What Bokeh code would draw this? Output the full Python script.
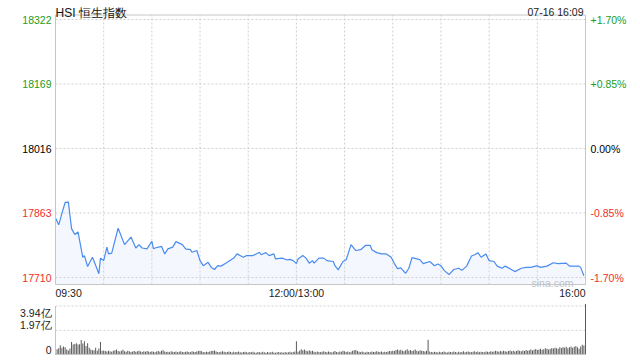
from bokeh.plotting import figure
from bokeh.models import Range1d, ColumnDataSource
from bokeh.core.properties import value
from bokeh.embed import file_html
from bokeh.resources import INLINE

FONT = "Liberation Sans"

# ---------------- data ----------------
prev_close = 18016
price_ticks = [17710, 17863, 18016, 18169, 18322]
pct_labels = ["-1.70%", "-0.85%", "0.00%", "+0.85%", "+1.70%"]
time_ticks = [0, 150, 330]
time_labels = ["09:30", "12:00/13:00", "16:00"]
grid_minutes = [30, 60, 90, 120, 150, 180, 210, 240, 270, 300]

minutes = [0, 2, 4, 6, 8, 10, 12, 14, 17, 18, 20, 23, 25, 27, 28, 30, 32, 33, 35, 39,
           43, 47, 50, 52, 54, 57, 60, 61, 62, 66, 68, 70, 73, 75, 79, 81, 84, 85, 88, 90,
           92, 95, 97, 99, 101, 103, 106, 111, 113, 117, 119, 123, 127, 128, 131, 133, 136, 137, 141, 144,
           146, 148, 150, 151, 154, 156, 158, 160, 161, 164, 167, 169, 173, 174, 176, 179, 181, 184, 187, 190,
           193, 196, 197, 200, 203, 206, 209, 211, 213, 215, 218, 220, 222, 225, 227, 229, 233, 236, 238, 240,
           242, 245, 248, 251, 253, 256, 259, 261, 263, 265, 268, 270, 273, 275, 278, 280, 283, 286, 290, 293,
           296, 300, 302, 306, 310, 313, 318, 320, 323, 326, 327, 329]
prices = [17851, 17835, 17862, 17888, 17889, 17826, 17812, 17818, 17758, 17762, 17736, 17758, 17739, 17719, 17756, 17750, 17782, 17766, 17768, 17827,
          17788, 17806, 17780, 17788, 17780, 17778, 17796, 17778, 17780, 17784, 17766, 17778, 17782, 17795, 17788, 17778, 17776, 17770, 17774, 17750,
          17738, 17746, 17734, 17729, 17738, 17737, 17744, 17756, 17766, 17758, 17762, 17762, 17770, 17764, 17769, 17762, 17766, 17754, 17756, 17752,
          17753, 17750, 17743, 17754, 17762, 17756, 17744, 17750, 17744, 17756, 17756, 17750, 17748, 17738, 17728, 17748, 17752, 17788, 17774, 17776,
          17786, 17786, 17776, 17769, 17766, 17766, 17758, 17743, 17731, 17733, 17720, 17732, 17757, 17754, 17752, 17743, 17748, 17738, 17742, 17738,
          17727, 17717, 17729, 17732, 17727, 17737, 17761, 17764, 17769, 17758, 17766, 17750, 17748, 17737, 17732, 17737, 17731, 17724, 17732, 17734,
          17734, 17738, 17734, 17737, 17745, 17743, 17744, 17737, 17737, 17737, 17734, 17714]

vol_ticks = [0, 1.97, 3.94]
vol_labels = ["0", "1.97亿", "3.94亿"]
# volume per minute, 09:30 .. 16:00 (亿); one row = 30 minutes
volumes = [
    2.50, 0.43, 0.50, 0.75, 0.54, 0.65, 0.59, 0.40, 0.32, 0.48, 1.02, 0.81, 0.85, 0.91, 0.81,
    0.83, 1.18, 0.90, 1.08, 0.70, 0.91, 0.54, 0.40, 0.35, 0.35, 0.54, 0.30, 0.48, 1.02, 0.30,
    0.32, 0.28, 0.24, 0.30, 0.26, 0.22, 0.30, 0.34, 0.40, 0.28, 0.24, 0.30, 0.38, 0.26, 0.22,
    0.30, 0.26, 0.20, 0.24, 0.28, 0.22, 0.26, 0.30, 0.24, 0.20, 0.26, 0.22, 0.28, 0.24, 0.20,
    0.26, 0.22, 0.18, 0.24, 0.28, 0.22, 0.30, 0.35, 0.24, 0.20, 0.22, 0.18, 0.26, 0.22, 0.20,
    0.24, 0.18, 0.22, 0.26, 0.20, 0.18, 0.22, 0.24, 0.20, 0.18, 0.26, 0.22, 0.20, 0.24, 0.28,
    0.30, 0.26, 0.20, 0.18, 0.22, 0.20, 0.24, 0.28, 0.30, 0.32, 0.24, 0.20, 0.18, 0.22, 0.26,
    0.22, 0.18, 0.20, 0.24, 0.20, 0.16, 0.22, 0.18, 0.20, 0.24, 0.18, 0.16, 0.20, 0.22, 0.18,
    0.16, 0.20, 0.18, 0.22, 0.16, 0.14, 0.20, 0.18, 0.16, 0.22, 0.18, 0.14, 0.20, 0.16, 0.18,
    0.22, 0.16, 0.14, 0.18, 0.20, 0.16, 0.18, 0.14, 0.20, 0.16, 0.18, 0.22, 0.16, 0.20, 0.24,
    1.07, 0.22, 0.30, 0.43, 0.35, 0.40, 0.30, 0.26, 0.34, 0.26, 0.30, 0.22, 0.18, 0.24, 0.20,
    0.18, 0.22, 0.26, 0.20, 0.18, 0.24, 0.20, 0.16, 0.22, 0.28, 0.20, 0.18, 0.24, 0.22, 0.30,
    0.26, 0.20, 0.24, 0.18, 0.22, 0.30, 0.34, 0.36, 0.28, 0.22, 0.20, 0.24, 0.18, 0.16, 0.22,
    0.20, 0.18, 0.24, 0.20, 0.22, 0.26, 0.22, 0.20, 0.24, 0.18, 0.22, 0.20, 0.24, 0.28, 0.26,
    0.30, 0.28, 0.36, 0.40, 0.32, 0.38, 0.30, 0.26, 0.34, 0.42, 0.30, 0.36, 0.28, 0.32, 0.40,
    0.30, 0.26, 0.34, 0.30, 0.28, 0.24, 0.30, 1.20, 0.24, 0.20, 0.18, 0.22, 0.20, 0.16, 0.22,
    0.18, 0.20, 0.24, 0.18, 0.16, 0.22, 0.20, 0.18, 0.24, 0.20, 0.16, 0.22, 0.18, 0.20, 0.26,
    0.18, 0.22, 0.24, 0.20, 0.18, 0.22, 0.26, 0.20, 0.24, 0.18, 0.22, 0.20, 0.18, 0.24, 0.22,
    0.20, 0.26, 0.22, 0.24, 0.30, 0.26, 0.22, 0.28, 0.24, 0.30, 0.26, 0.22, 0.28, 0.32, 0.26,
    0.30, 0.24, 0.28, 0.34, 0.30, 0.26, 0.32, 0.28, 0.36, 0.30, 0.34, 0.40, 0.32, 0.38, 0.44,
    0.36, 0.40, 0.46, 0.38, 0.42, 0.50, 0.46, 0.40, 0.44, 0.52, 0.48, 0.55, 0.50, 0.46, 0.58,
    0.52, 0.60, 0.55, 0.62, 0.50, 0.58, 0.66, 0.54, 0.62, 0.70, 0.58, 0.46, 0.66, 0.80, 0.74,
    4.10,
]
vol_minutes = list(range(len(volumes)))

# ---------------- layout (pixels) ----------------
W, H = 640, 360
PLOT_L, PLOT_R = 55, 585            # chart frame, x pixels
PRICE_TOP_PX, PRICE_BOT_PX = 19, 277  # pixel rows of 18322 / 17710 gridlines
FRAME_TOP_PX, FRAME_BOT_PX = 14.5, 284
VOL_ZERO_PX, VOL_TOP_PX = 354, 305.5  # pixel rows of 0 / 3.94
VOL_FRAME_TOP_PX = 305.5

sx = (PLOT_R - PLOT_L) / 330.0
sy = (PRICE_BOT_PX - PRICE_TOP_PX) / (price_ticks[-1] - price_ticks[0])
sv = (VOL_ZERO_PX - VOL_TOP_PX) / vol_ticks[-1]

x_start = -PLOT_L / sx
x_end = 330 + (W - PLOT_R) / sx
y_end = price_ticks[-1] + PRICE_TOP_PX / sy
y_start = price_ticks[-1] - (H - PRICE_TOP_PX) / sy
v_start = -(H - VOL_ZERO_PX) / sv
v_end = VOL_ZERO_PX / sv


def py(px):  # pixel row -> price coordinate
    return y_end - px / sy


def pv(px):  # pixel row -> volume coordinate
    return v_end - px / sv


GREEN = "#1c9c1c"
RED = "#f22c2c"
BLACK = "#000000"
LINE = "#4a8bef"
FRAME = "#c6c6c6"
GRID = "#d0d0d0"
TXT = "#222222"
FS = "10.5px"


def level_color(v):
    if v > prev_close:
        return GREEN
    if v < prev_close:
        return RED
    return BLACK


p = figure(width=W, height=H, min_border=0, x_range=Range1d(x_start, x_end),
           y_range=Range1d(y_start, y_end), x_axis_type=None, y_axis_type=None,
           toolbar_location=None, output_backend="svg",
           background_fill_color="white", border_fill_color="white")
p.outline_line_color = None
p.extra_y_ranges = {"vol": Range1d(v_start, v_end)}

top_f, bot_f = py(FRAME_TOP_PX), py(FRAME_BOT_PX)

# price area fill
src = ColumnDataSource(dict(x=minutes, y=prices, base=[bot_f] * len(prices)))
p.varea(x="x", y1="base", y2="y", source=src, fill_color="#e6effd", fill_alpha=0.45)

# grid
p.segment(x0=grid_minutes, x1=grid_minutes, y0=[bot_f] * len(grid_minutes),
          y1=[top_f] * len(grid_minutes), line_color=GRID, line_dash="2 2", line_width=1)
p.segment(x0=[0] * len(price_ticks), x1=[330] * len(price_ticks), y0=price_ticks,
          y1=price_ticks, line_color=GRID, line_dash="2 2", line_width=1)

p.line(x="x", y="y", source=src, line_color=LINE, line_width=1.2)

# price frame
p.quad(left=0, right=330, bottom=bot_f, top=top_f, fill_color=None,
       line_color=FRAME, line_width=1)

# price labels
lsrc = ColumnDataSource(dict(
    y=price_ticks, t=[str(v) for v in price_ticks], pct=pct_labels,
    c=[level_color(v) for v in price_ticks],
    x0=[0] * len(price_ticks), x1=[330] * len(price_ticks)))
p.text(x="x0", y="y", text="t", source=lsrc, x_offset=-4, text_align="right",
       text_baseline="middle", text_font=value(FONT), text_font_size=FS, text_color="c")
p.text(x="x1", y="y", text="pct", source=lsrc, x_offset=5, text_align="left",
       text_baseline="middle", text_font=value(FONT), text_font_size=FS, text_color="c")

# time labels
tsrc = ColumnDataSource(dict(x=time_ticks, t=time_labels, a=["left", "center", "right"],
                             y=[bot_f] * len(time_ticks)))
p.text(x="x", y="y", text="t", source=tsrc, y_offset=8, text_align="a",
       text_baseline="middle", text_font=value(FONT), text_font_size=FS, text_color=TXT)

# header
p.text(x=[0], y=[py(12)], text=["HSI 恒生指数"], text_align="left",
       text_baseline="alphabetic", text_font=value(FONT), text_font_size="12px",
       text_color="#111111")
p.text(x=[330], y=[py(11)], text=["07-16 16:09"], x_offset=-2, text_align="right",
       text_baseline="alphabetic", text_font=value(FONT), text_font_size=FS,
       text_color=TXT)
p.text(x=[330], y=[py(282)], text=["sina.com"], x_offset=-12, text_align="right",
       text_baseline="alphabetic", text_font=value(FONT), text_font_size=FS,
       text_color="#c2c2c2")

# ---------------- volume panel ----------------
vtop = pv(VOL_FRAME_TOP_PX)
p.segment(x0=[0, 0], x1=[330, 330], y0=[1.97, 3.94], y1=[1.97, 3.94],
          line_color=GRID, line_dash="2 2", line_width=1, y_range_name="vol")
p.vbar(x=vol_minutes, top=volumes, bottom=0, width=0.62, fill_color="#5a5a5a",
       line_color=None, y_range_name="vol")
p.segment(x0=[0], x1=[0], y0=[0], y1=[vtop], line_color=FRAME,
          line_width=1, y_range_name="vol")
p.segment(x0=[0], x1=[330], y0=[0], y1=[0], line_color=FRAME, line_width=1,
          y_range_name="vol")

vsrc = ColumnDataSource(dict(x=[0] * 3, y=vol_ticks, t=vol_labels, off=[-4.7, -5.7, 6.7]))
p.text(x="x", y="y", text="t", source=vsrc, x_offset=-4, y_offset="off",
       text_align="right", text_baseline="middle", text_font=value(FONT),
       text_font_size=FS, text_color=TXT, y_range_name="vol")

open("out.html", "w").write(file_html(p, INLINE))
